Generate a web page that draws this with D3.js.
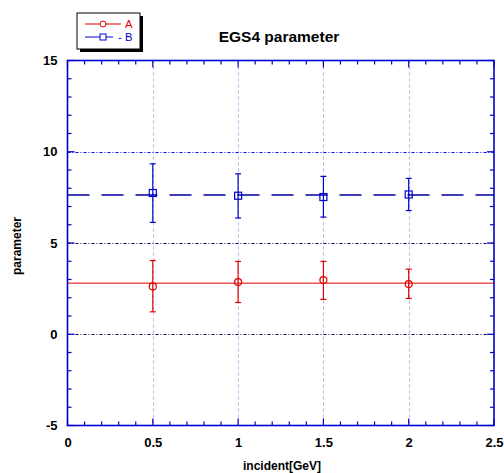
<!DOCTYPE html>
<html>
<head>
<meta charset="utf-8">
<script src="https://cdn.jsdelivr.net/npm/d3@7"></script>
<style>
  html, body { margin: 0; padding: 0; background: #fff; }
  svg { display: block; font-family: "Liberation Sans", Arial, sans-serif; }
</style>
</head>
<body>
<svg id="chart" width="504" height="473"></svg>
<script>
// Incident energies (GeV)
const energies = [0.5, 1.0, 1.5, 2.0];

// Series A: value with lower/upper error bounds
const aValues = [2.62, 2.86, 2.97, 2.75];
const aUpper  = [4.04, 3.99, 3.99, 3.57];
const aLower  = [1.23, 1.74, 1.91, 1.96];
const aFit = 2.8;

// Series B: value with lower/upper error bounds
const bValues = [7.74, 7.59, 7.52, 7.66];
const bUpper  = [9.34, 8.79, 8.65, 8.54];
const bLower  = [6.13, 6.37, 6.42, 6.78];
const bFit = 7.63;

// Axis ticks
const xTicks = [0, 0.5, 1, 1.5, 2, 2.5];
const xTickLabels = ["0", "0.5", "1", "1.5", "2", "2.5"];
const yTicks = [-5, 0, 5, 10, 15];
const yTickLabels = ["-5", "0", "5", "10", "15"];
const xGrid = [0.5, 1, 1.5, 2];
const yGrid = [0, 5, 10];

const svg = d3.select("#chart");
const plotL = 67.5, plotR = 494, plotT = 60.5, plotB = 425.5;

const x = d3.scaleLinear().domain([0, 2.5]).range([plotL, plotR]);
const y = d3.scaleLinear().domain([-5, 15]).range([plotB, plotT]);
const snap = v => Math.round(v) + 0.5;

const axisColor = "#0000cc";

// Grid lines
svg.append("g").selectAll("line").data(xGrid).join("line")
  .attr("x1", d => snap(x(d))).attr("x2", d => snap(x(d)))
  .attr("y1", plotT).attr("y2", plotB)
  .attr("stroke", "#b4b4ee").attr("stroke-width", 1)
  .attr("stroke-dasharray", "3,3");

svg.append("g").selectAll("line").data(yGrid).join("line")
  .attr("x1", plotL).attr("x2", plotR)
  .attr("y1", d => snap(y(d))).attr("y2", d => snap(y(d)))
  .attr("stroke", d => d === 10 ? "#0000ee" : "#000060").attr("stroke-width", 1)
  .attr("stroke-dasharray", "3,2,1,2");

// Fit lines
svg.append("line")
  .attr("x1", plotL).attr("x2", plotR)
  .attr("y1", y(aFit)).attr("y2", y(aFit))
  .attr("stroke", "#e00000").attr("stroke-width", 1);
svg.append("line")
  .attr("x1", plotL).attr("x2", plotR)
  .attr("y1", y(bFit)).attr("y2", y(bFit))
  .attr("stroke", "#0000a0").attr("stroke-width", 1.3)
  .attr("stroke-dasharray", "22,12");

// Error bars and markers
function drawSeries(vals, up, lo, color, marker) {
  const g = svg.append("g");
  energies.forEach((e, i) => {
    const cx = x(e);
    g.append("line").attr("x1", cx).attr("x2", cx)
      .attr("y1", y(up[i])).attr("y2", y(lo[i]))
      .attr("stroke", color).attr("stroke-width", 1.2);
    [up[i], lo[i]].forEach(v => {
      g.append("line").attr("x1", cx - 3).attr("x2", cx + 3)
        .attr("y1", y(v)).attr("y2", y(v))
        .attr("stroke", color).attr("stroke-width", 1.2);
    });
    if (marker === "circle") {
      g.append("circle").attr("cx", cx).attr("cy", y(vals[i])).attr("r", 3.5)
        .attr("fill", "none").attr("stroke", color).attr("stroke-width", 1.2);
    } else {
      g.append("rect").attr("x", cx - 3.5).attr("y", y(vals[i]) - 3.5)
        .attr("width", 7).attr("height", 7)
        .attr("fill", "none").attr("stroke", color).attr("stroke-width", 1.2);
    }
  });
}
drawSeries(aValues, aUpper, aLower, "#e00000", "circle");
drawSeries(bValues, bUpper, bLower, "#0000cc", "square");

// Frame
svg.append("rect").attr("x", plotL).attr("y", plotT)
  .attr("width", plotR - plotL).attr("height", plotB - plotT)
  .attr("fill", "none").attr("stroke", axisColor).attr("stroke-width", 1.6);

// Inward ticks on all four sides
const xMinor = d3.range(0, 2.5001, 0.1);
const yMinor = d3.range(-5, 15.001, 1);
const tg = svg.append("g").attr("stroke", axisColor).attr("stroke-width", 1.2);
xMinor.forEach(v => {
  const major = Math.abs(v * 2 - Math.round(v * 2)) < 1e-6;
  const len = major ? 7 : 4;
  tg.append("line").attr("x1", x(v)).attr("x2", x(v)).attr("y1", plotB).attr("y2", plotB - len);
  tg.append("line").attr("x1", x(v)).attr("x2", x(v)).attr("y1", plotT).attr("y2", plotT + len);
});
yMinor.forEach(v => {
  const major = Math.abs(v / 5 - Math.round(v / 5)) < 1e-6;
  const len = major ? 7 : 4;
  tg.append("line").attr("x1", plotL).attr("x2", plotL + len).attr("y1", y(v)).attr("y2", y(v));
  tg.append("line").attr("x1", plotR).attr("x2", plotR - len).attr("y1", y(v)).attr("y2", y(v));
});

// Tick labels via d3 axes (lines hidden)
const xAxis = d3.axisBottom(x).tickValues(xTicks)
  .tickFormat((d, i) => xTickLabels[i]).tickSize(0).tickPadding(12);
const gx = svg.append("g").attr("transform", `translate(0,${plotB})`).call(xAxis);
gx.select(".domain").remove();
gx.selectAll("text").attr("font-size", 13).attr("font-weight", "bold")
  .attr("font-family", "Liberation Sans, Arial, sans-serif").attr("fill", "#000");

const yAxis = d3.axisLeft(y).tickValues(yTicks)
  .tickFormat((d, i) => yTickLabels[i]).tickSize(0).tickPadding(10);
const gy = svg.append("g").attr("transform", `translate(${plotL},0)`).call(yAxis);
gy.select(".domain").remove();
gy.selectAll("text").attr("font-size", 13).attr("font-weight", "bold")
  .attr("font-family", "Liberation Sans, Arial, sans-serif").attr("fill", "#000");

// Titles
svg.append("text").attr("x", 279).attr("y", 42).attr("text-anchor", "middle")
  .attr("font-size", 15.5).attr("font-weight", "bold").text("EGS4 parameter");
svg.append("text").attr("x", 282).attr("y", 470).attr("text-anchor", "middle")
  .attr("font-size", 12).attr("font-weight", "bold").text("incident[GeV]");
svg.append("text").attr("transform", "translate(21,246) rotate(-90)")
  .attr("text-anchor", "middle")
  .attr("font-size", 12).attr("font-weight", "bold").text("parameter");

// Legend
const lg = svg.append("g");
lg.append("rect").attr("x", 80).attr("y", 16).attr("width", 63).attr("height", 36).attr("fill", "#000");
lg.append("rect").attr("x", 77).attr("y", 13).attr("width", 63).attr("height", 36)
  .attr("fill", "#fff").attr("stroke", "#000").attr("stroke-width", 1);
const legendItems = [
  { label: "A", color: "#e00000", marker: "circle", yy: 24, lineEnd: 121, tx: 125 },
  { label: "- B", color: "#0000cc", marker: "square", yy: 37, lineEnd: 113, tx: 118 }
];
legendItems.forEach(it => {
  lg.append("line").attr("x1", 85).attr("x2", it.lineEnd).attr("y1", it.yy).attr("y2", it.yy)
    .attr("stroke", it.color).attr("stroke-width", 1);
  if (it.marker === "circle") {
    lg.append("circle").attr("cx", 103).attr("cy", it.yy).attr("r", 3)
      .attr("fill", "#fff").attr("stroke", it.color).attr("stroke-width", 1);
  } else {
    lg.append("rect").attr("x", 100).attr("y", it.yy - 3).attr("width", 6).attr("height", 6)
      .attr("fill", "#fff").attr("stroke", it.color).attr("stroke-width", 1);
  }
  lg.append("text").attr("x", it.tx).attr("y", it.yy + 4.2)
    .attr("font-size", 11.3).attr("fill", it.color).text(it.label);
});
</script>
</body>
</html>
